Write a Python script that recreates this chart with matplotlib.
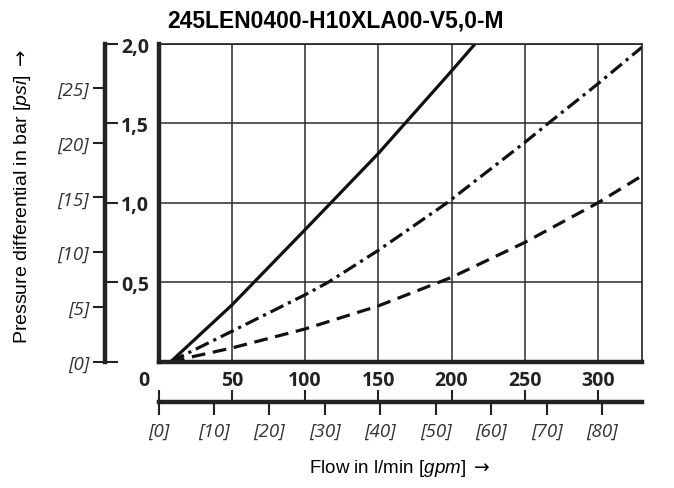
import numpy as np
import matplotlib.pyplot as plt

plt.rcParams['mathtext.fontset'] = 'custom'
plt.rcParams['mathtext.rm'] = 'Liberation Sans'
plt.rcParams['mathtext.it'] = 'Liberation Sans:italic'
plt.rcParams['mathtext.sf'] = 'DejaVu Sans'

# flow in l/min and pressure differential in bar
flow_solid = [8.5, 50, 100, 150, 200, 216]
dp_solid = [0.0, 0.355, 0.83, 1.31, 1.83, 2.0]

flow_dashdot = [8.5, 50, 100, 116, 150, 197, 250, 266, 300, 330]
dp_dashdot = [0.0, 0.19, 0.42, 0.5, 0.70, 1.0, 1.38, 1.5, 1.75, 1.98]

flow_dashed = [8.5, 50, 100, 150, 200, 250, 300, 330]
dp_dashed = [0.0, 0.085, 0.205, 0.35, 0.53, 0.75, 1.0, 1.17]

lmin_ticks = [50, 100, 150, 200, 250, 300]
bar_ticks = [0, 0.5, 1.0, 1.5, 2.0]
bar_labels = ['', '0,5', '1,0', '1,5', '2,0']
psi_ticks = [0, 5, 10, 15, 20, 25]
gpm_ticks = [0, 10, 20, 30, 40, 50, 60, 70, 80]

BAR_TO_PSI = 14.5038
GPM_TO_LMIN = 3.78541
XMAX = 330
YMAX = 2.0

num_font = 'Open Sans'
txt_font = 'Liberation Sans'
num_size = 14
brk_size = 13.5

W, H = 674, 489
fig = plt.figure(figsize=(W / 100, H / 100), dpi=100)

L, R, T, B = 158.5 / W, 642 / W, 1 - 45 / H, 1 - 362.5 / H
ax = fig.add_axes([L, B, R - L, T - B])
ax.plot(flow_solid, dp_solid, color='#111111', lw=2.3, solid_capstyle='butt')
ax.plot(flow_dashdot, dp_dashdot, color='#111111', lw=2.3, dashes=(4.5, 1.6, 1.0, 1.6))
ax.plot(flow_dashed, dp_dashed, color='#111111', lw=2.3, dashes=(4.3, 2.4))
ax.set_xlim(0, XMAX)
ax.set_ylim(0, YMAX)
ax.set_xticks(lmin_ticks)
ax.set_xticklabels([str(t) for t in lmin_ticks], fontfamily=num_font,
                   fontweight='bold', fontsize=num_size, color='#222222')
ax.set_yticks(bar_ticks)
ax.set_yticklabels([])
ax.tick_params(axis='both', length=0)
ax.tick_params(axis='x', pad=6)
ax.grid(True, color='#2a2a2a', lw=1.1)
ax.spines['left'].set_linewidth(3.2)
ax.spines['bottom'].set_linewidth(3.2)
ax.spines['top'].set_linewidth(1.2)
ax.spines['right'].set_linewidth(1.2)
for s in ax.spines.values():
    s.set_color('#222222')
fig.text(144 / W, 1 - 381 / H, '0', ha='center', va='center', color='#222222',
         fontfamily=num_font, fontweight='bold', fontsize=num_size)

# left axis: bar ticks to the right, psi ticks to the left
ax_x = 104.5 / W
ax_bar = fig.add_axes([ax_x, B, 1e-5, T - B])
ax_bar.patch.set_visible(False)
ax_bar.set_ylim(0, YMAX)
for k in ['left', 'top', 'bottom']:
    ax_bar.spines[k].set_visible(False)
ax_bar.spines['right'].set_linewidth(3.2)
ax_bar.spines['right'].set_color('#222222')
ax_bar.set_xticks([])
ax_bar.yaxis.tick_right()
ax_bar.set_yticks(bar_ticks)
ax_bar.set_yticklabels(bar_labels, fontfamily=num_font, fontweight='bold',
                       fontsize=num_size, color='#222222')
ax_bar.tick_params(axis='y', length=9, width=1.5, color='#222222', pad=3)

ax_psi = fig.add_axes([ax_x, B, 1e-5, T - B])
ax_psi.patch.set_visible(False)
ax_psi.set_ylim(0, YMAX * BAR_TO_PSI)
for k in ['left', 'right', 'top', 'bottom']:
    ax_psi.spines[k].set_visible(False)
ax_psi.set_xticks([])
ax_psi.set_yticks(psi_ticks)
ax_psi.set_yticklabels(['[%d]' % t for t in psi_ticks], fontfamily=num_font,
                       style='italic', fontsize=brk_size, color='#333333')
ax_psi.tick_params(axis='y', length=9, width=1.5, color='#222222', pad=2)

# bottom axis: l/min ticks up, gpm ticks down
line_y = 1 - 403 / H
ax_flow = fig.add_axes([L, line_y, R - L, 1e-5])
ax_flow.patch.set_visible(False)
ax_flow.set_xlim(0, XMAX)
for k in ['left', 'right', 'bottom']:
    ax_flow.spines[k].set_visible(False)
ax_flow.spines['top'].set_linewidth(3.2)
ax_flow.spines['top'].set_color('#222222')
ax_flow.set_yticks([])
ax_flow.xaxis.tick_top()
ax_flow.set_xticks([0] + lmin_ticks)
ax_flow.set_xticklabels([])
ax_flow.tick_params(axis='x', length=9, width=1.5, color='#222222')

ax_gpm = fig.add_axes([L, line_y, R - L, 1e-5])
ax_gpm.patch.set_visible(False)
ax_gpm.set_xlim(0, XMAX / GPM_TO_LMIN)
for k in ['left', 'right', 'top', 'bottom']:
    ax_gpm.spines[k].set_visible(False)
ax_gpm.set_yticks([])
ax_gpm.set_xticks(gpm_ticks)
ax_gpm.set_xticklabels(['[%d]' % t for t in gpm_ticks], fontfamily=num_font,
                       style='italic', fontsize=brk_size, color='#333333')
ax_gpm.tick_params(axis='x', length=9, width=1.5, color='#222222', pad=5)

fig.text(335 / W, 1 - 21 / H, '245LEN0400-H10XLA00-V5,0-M', ha='center', va='center',
         fontfamily=txt_font, fontweight='bold', fontsize=16.5)
fig.text(400 / W, 1 - 469 / H, 'Flow in l/min $\\it{[gpm]}\\ \\mathsf{\\rightarrow}$',
         ha='center', va='center', fontfamily=txt_font, fontsize=13.5)
fig.text(23 / W, 1 - 197 / H, 'Pressure differential in bar $\\it{[psi]}\\ \\mathsf{\\rightarrow}$',
         ha='center', va='center', rotation=90, fontfamily=txt_font, fontsize=14)

fig.savefig('out.png', dpi=100)
